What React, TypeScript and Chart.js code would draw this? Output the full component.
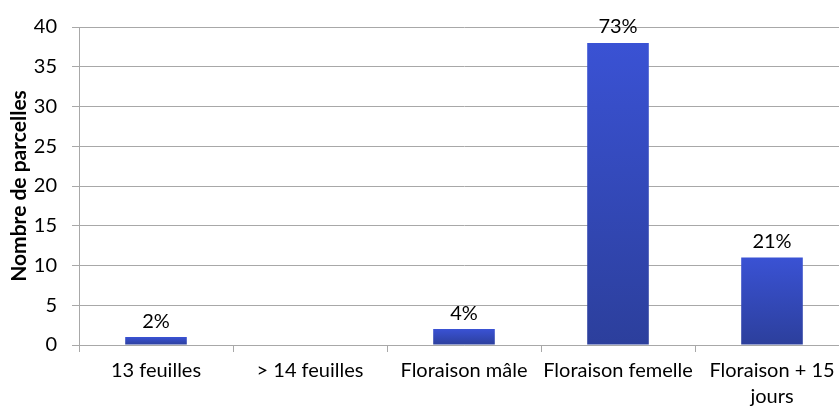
import React, { useEffect, useRef } from "react";
import { Chart, registerables } from "chart.js";

Chart.register(...registerables);

const categories: (string | string[])[] = [
  "13 feuilles",
  "> 14 feuilles",
  "Floraison mâle",
  "Floraison femelle",
  ["Floraison + 15", "jours"],
];
const counts: number[] = [1, 0, 2, 38, 11];
const percentLabels: string[] = ["2%", "", "4%", "73%", "21%"];
const yTicks = { min: 0, max: 40, step: 5 };
const yTitle = "Nombre de parcelles";

const FONT = "Lato, 'Liberation Sans', sans-serif";
const GRID = "#A8A8A8";

const labelPlugin = {
  id: "barLabels",
  afterDatasetsDraw(chart: any) {
    const ctx = chart.ctx;
    const meta = chart.getDatasetMeta(0);
    ctx.save();
    ctx.font = `20px ${FONT}`;
    ctx.fillStyle = "#000";
    ctx.textAlign = "center";
    ctx.textBaseline = "middle";
    meta.data.forEach((el: any, i: number) => {
      const t = percentLabels[i];
      if (!t) return;
      ctx.fillText(t, el.x, el.y - 16);
    });
    ctx.restore();
  },
};

export default function App() {
  const ref = useRef<HTMLCanvasElement | null>(null);
  useEffect(() => {
    if (!ref.current) return;
    const chart = new Chart(ref.current, {
      type: "bar",
      data: {
        labels: categories,
        datasets: [
          {
            data: counts,
            backgroundColor: (c: any) => {
              const ch = c.chart;
              const ys = ch.scales && ch.scales.y;
              if (!ch.chartArea || !ys || typeof c.raw !== "number") return "#3850CF";
              const top = ys.getPixelForValue(c.raw);
              const base = ys.getPixelForValue(0);
              if (!(base > top)) return "#3850CF";
              const g = ch.ctx.createLinearGradient(0, top, 0, base);
              g.addColorStop(0, "#3A52D4");
              g.addColorStop(1, "#2C3F9C");
              return g;
            },
            borderWidth: 0,
            categoryPercentage: 0.4,
            barPercentage: 1,
          },
        ],
      },
      options: {
        responsive: false,
        animation: false,
        layout: { padding: { top: 22, right: 11, left: 0, bottom: 0 } },
        plugins: { legend: { display: false }, tooltip: { enabled: false } },
        scales: {
          x: {
            afterFit: (s: any) => {
              s.height = 63;
            },
            grid: {
              offset: true,
              drawOnChartArea: false,
              color: GRID,
              tickLength: 7,
            },
            border: { color: GRID },
            ticks: {
              color: "#000",
              padding: 6,
              maxRotation: 0,
              autoSkip: false,
              font: { family: FONT, size: 20, lineHeight: 1.3 },
            },
          },
          y: {
            min: yTicks.min,
            max: yTicks.max,
            afterFit: (s: any) => {
              s.width = 79;
            },
            grid: { color: GRID, tickLength: 7 },
            border: { color: GRID },
            ticks: {
              stepSize: yTicks.step,
              color: "#000",
              padding: 15,
              font: { family: FONT, size: 20 },
            },
            title: {
              display: true,
              text: yTitle,
              color: "#000",
              padding: { top: 7, bottom: 0 },
              font: { family: FONT, size: 21, weight: "bold" },
            },
          },
        },
      },
      plugins: [labelPlugin],
    });
    return () => chart.destroy();
  }, []);
  return (
    <div
      style={{
        position: "fixed",
        left: 0,
        top: 0,
        width: 839,
        height: 408,
        overflow: "hidden",
        background: "#fff",
      }}
    >
      <canvas ref={ref} width={860} height={408} style={{ display: "block" }} />
    </div>
  );
}
